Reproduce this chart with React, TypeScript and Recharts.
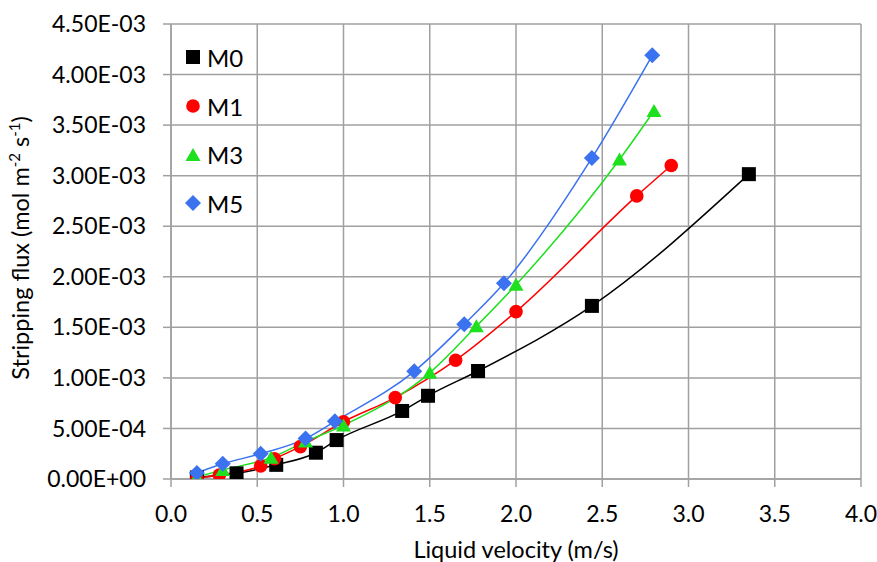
import React from "react";
import { LineChart, Line, XAxis, YAxis, CartesianGrid } from "recharts";

// liquid velocity (m/s) and stripping flux (mol m-2 s-1)
const m0X = [0.15, 0.38, 0.61, 0.84, 0.96, 1.34, 1.49, 1.78, 2.44, 3.35];
const m0Y = [0.000015, 0.000056, 0.00014, 0.00026, 0.000385, 0.000673, 0.000823, 0.001068, 0.001712, 0.003015];

const m1X = [0.15, 0.28, 0.52, 0.6, 0.75, 1.0, 1.3, 1.65, 2.0, 2.7, 2.9];
const m1Y = [0.00001, 0.00004, 0.00013, 0.0002, 0.00032, 0.000566, 0.000805, 0.001175, 0.001655, 0.0028, 0.0031];

const m3X = [0.15, 0.3, 0.58, 0.78, 1.0, 1.5, 1.77, 2.0, 2.6, 2.8];
const m3Y = [0.00002, 0.00009, 0.00021, 0.00037, 0.00053, 0.00105, 0.00151, 0.00192, 0.00316, 0.00364];

const m5X = [0.15, 0.3, 0.52, 0.78, 0.95, 1.41, 1.7, 1.93, 2.44, 2.79];
const m5Y = [0.00006, 0.00015, 0.00025, 0.0004, 0.00057, 0.001065, 0.00153, 0.001935, 0.003175, 0.00419];

const xTicks = [0, 0.5, 1, 1.5, 2, 2.5, 3, 3.5, 4];
const yTicks = [0, 0.0005, 0.001, 0.0015, 0.002, 0.0025, 0.003, 0.0035, 0.004, 0.0045];

const zip = (xs: number[], ys: number[]) => xs.map((x, i) => ({ x, y: ys[i] }));

const BLUE = "#3B72F0";
const GREEN = "#1EE01E";
const RED = "#FF0000";
const FONT = "Lato, sans-serif";

function Square(props: any) {
  const { cx, cy } = props;
  if (cx == null || cy == null) return null;
  return <rect x={cx - 7} y={cy - 7} width={14} height={14} fill="#000" />;
}
function Circle(props: any) {
  const { cx, cy } = props;
  if (cx == null || cy == null) return null;
  return <circle cx={cx} cy={cy} r={6.8} fill={RED} />;
}
function Triangle(props: any) {
  const { cx, cy } = props;
  if (cx == null || cy == null) return null;
  return <path d={`M${cx},${cy - 7} L${cx + 7.5},${cy + 6} L${cx - 7.5},${cy + 6} Z`} fill={GREEN} />;
}
function Diamond(props: any) {
  const { cx, cy } = props;
  if (cx == null || cy == null) return null;
  return <path d={`M${cx},${cy - 8} L${cx + 8},${cy} L${cx},${cy + 8} L${cx - 8},${cy} Z`} fill={BLUE} />;
}

const series = [
  { name: "M0", data: zip(m0X, m0Y), color: "#000", Dot: Square },
  { name: "M1", data: zip(m1X, m1Y), color: RED, Dot: Circle },
  { name: "M3", data: zip(m3X, m3Y), color: GREEN, Dot: Triangle },
  { name: "M5", data: zip(m5X, m5Y), color: BLUE, Dot: Diamond },
];

function sci(v: number) {
  if (v === 0) return "0.00E+00";
  const [m, e] = v.toExponential(2).split("e");
  const n = parseInt(e, 10);
  return `${m}E${n < 0 ? "-" : "+"}${String(Math.abs(n)).padStart(2, "0")}`;
}

function YLabel() {
  return (
    <text
      transform="translate(29,248) rotate(-90)"
      textAnchor="middle"
      fontFamily={FONT}
      fontSize={23.5}
      fill="#000"
    >
      <tspan>Stripping flux (mol m</tspan>
      <tspan dy={-9} fontSize={15}>-2</tspan>
      <tspan dy={9}> s</tspan>
      <tspan dy={-9} fontSize={15}>-1</tspan>
      <tspan dy={9}>)</tspan>
    </text>
  );
}

export default function App() {
  return (
    <div style={{ position: "absolute", left: 0, top: 0, width: 877, height: 562, background: "#fff" }}>
      <LineChart width={877} height={562} margin={{ top: 24, right: 16, bottom: 0, left: 0 }}>
        <CartesianGrid stroke="#A0A0A0" strokeWidth={1.5} />
        <XAxis
          type="number"
          dataKey="x"
          domain={[0, 4]}
          ticks={xTicks}
          allowDataOverflow
          height={83}
          tickSize={8}
          tickMargin={19}
          stroke="#A0A0A0"
          strokeWidth={1.5}
          tickFormatter={(v: number) => v.toFixed(1)}
          tick={{ fill: "#000", fontSize: 23, fontFamily: FONT }}
          label={{ value: "Liquid velocity (m/s)", position: "insideBottom", offset: 4, fill: "#000", fontSize: 23.5, fontFamily: FONT }}
        />
        <YAxis
          type="number"
          domain={[0, 0.0045]}
          ticks={yTicks}
          allowDataOverflow
          width={171}
          tickSize={8}
          tickMargin={17}
          stroke="#A0A0A0"
          strokeWidth={1.5}
          tickFormatter={sci}
          tick={{ fill: "#000", fontSize: 23, fontFamily: FONT }}
          label={<YLabel />}
        />
        {series.map((s) => (
          <Line
            key={s.name}
            data={s.data}
            dataKey="y"
            name={s.name}
            type="monotone"
            stroke={s.color}
            strokeWidth={1.5}
            dot={<s.Dot />}
            activeDot={false}
            isAnimationActive={false}
          />
        ))}
      </LineChart>
      <div style={{ position: "absolute", left: 185, top: 33, fontFamily: FONT, fontSize: 24, color: "#000" }}>
        {series.map((s) => (
          <div key={s.name} style={{ display: "flex", alignItems: "center", height: 48.7 }}>
            <svg width={16} height={16} style={{ marginRight: 6 }}>
              <s.Dot cx={8} cy={8} />
            </svg>
            <span>{s.name}</span>
          </div>
        ))}
      </div>
    </div>
  );
}
